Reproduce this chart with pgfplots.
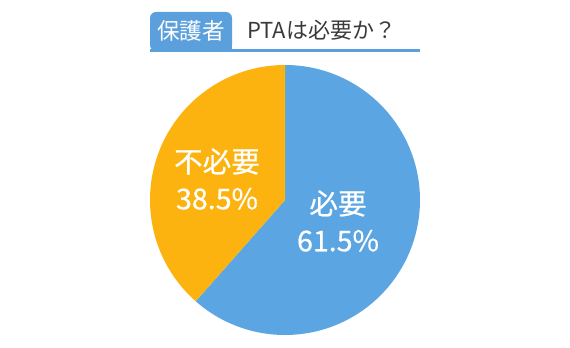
\documentclass[border=0pt]{standalone}
\usepackage{fontspec}
\usepackage{pgfplots}
\pgfplotsset{compat=1.18}
\newfontfamily\cjk{Noto Sans CJK JP}
\newfontfamily\cjkm[FakeBold=0.6]{Noto Sans CJK JP}
\definecolor{pieblue}{HTML}{5BA6E2}
\definecolor{pieorange}{HTML}{FCB310}
\definecolor{titleblue}{HTML}{5BA0DC}
\definecolor{titlegray}{HTML}{3A3A3A}
\def\vNeed{61.5}
\def\vNoNeed{38.5}
\begin{document}
\begin{tikzpicture}
\useasboundingbox (0,0) rectangle (285pt,174pt);
\begin{axis}[
  scale only axis, width=285pt, height=174pt,
  xmin=0, xmax=570, ymin=0, ymax=348,
  hide axis, clip=false,
]
% pie: centre (285,148), radius 135, starting at top, clockwise
\addplot[fill=pieblue, draw=none, domain=0:\vNeed, samples=200, variable=\t]
  ({285+135*cos(90-3.6*\t)},{148+135*sin(90-3.6*\t)}) -- (axis cs:285,148) -- cycle;
\addplot[fill=pieorange, draw=none, domain=\vNeed:100, samples=150, variable=\t]
  ({285+135*cos(90-3.6*\t)},{148+135*sin(90-3.6*\t)}) -- (axis cs:285,148) -- cycle;
% labels
\node[text=white, align=center, font=\cjkm\fontsize{14.3}{18.5}\selectfont] at (axis cs:217,169) {不必要\\38.5\%};
\node[text=white, align=center, font=\cjkm\fontsize{14.3}{18.5}\selectfont] at (axis cs:338,127) {必要\\61.5\%};
% title
\fill[titleblue, rounded corners=3pt] (axis cs:150,297) -- (axis cs:150,336) -- (axis cs:232,336) -- (axis cs:232,297) -- cycle;
\fill[titleblue] (axis cs:226,297) rectangle (axis cs:232,303);
\draw[titleblue, line width=1.1pt] (axis cs:150,297.5) -- (axis cs:420,297.5);
\node[text=white, font=\cjk\fontsize{11.3}{13}\selectfont] at (axis cs:191,317) {保護者};
\node[text=titlegray, anchor=west, inner sep=0pt, font=\cjk\fontsize{11}{13}\selectfont] at (axis cs:247,318) {PTAは必要か？};
\end{axis}
\end{tikzpicture}
\end{document}
